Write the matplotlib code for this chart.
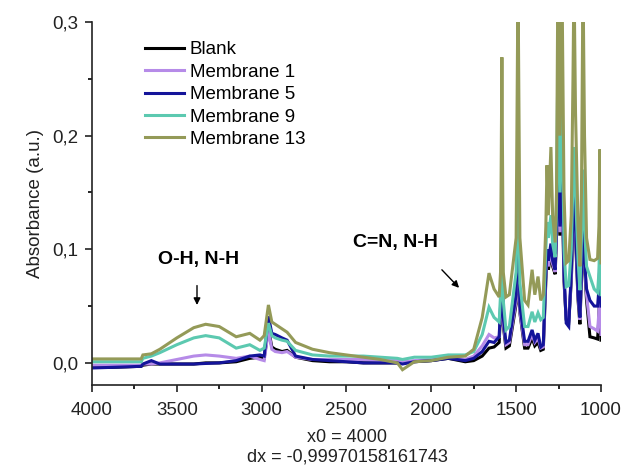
import matplotlib
matplotlib.use('Agg')
import matplotlib.pyplot as plt
from matplotlib.ticker import MultipleLocator, FuncFormatter

plt.rcParams['font.family'] = ['Liberation Sans', 'DejaVu Sans']

# wavenumber (cm-1) of the read-off points
wavenumber = [4000, 3900, 3800, 3710, 3700, 3650, 3600, 3500, 3400, 3330,
              3250, 3150, 3070, 3010, 2985, 2960, 2940, 2920, 2880, 2850,
              2800, 2700, 2600, 2500, 2400, 2300, 2200, 2170, 2100, 2000,
              1900, 1800, 1750, 1700, 1660, 1630, 1600, 1592, 1584, 1576,
              1560, 1540, 1500, 1489, 1478, 1450, 1430, 1406, 1390, 1371,
              1355, 1340, 1325, 1318, 1310, 1295, 1285, 1270, 1262, 1254,
              1242, 1230, 1218, 1205, 1190, 1175, 1165, 1159, 1150, 1135,
              1124, 1115, 1106, 1097, 1085, 1065, 1040, 1020, 1012, 1006,
              1000]

blank = [-0.004, -0.004, -0.0035, -0.003, -0.002, -0.001, -0.001, -0.001, -0.001, 0.000,
         0.000, 0.001, 0.004, 0.005, 0.004, 0.030, 0.014, 0.012, 0.010, 0.011,
         0.005, 0.002, 0.001, 0.001, 0.000, 0.000, 0.000, 0.000, 0.001, 0.002,
         0.004, 0.001, 0.002, 0.006, 0.013, 0.014, 0.018, 0.045, 0.090, 0.033,
         0.013, 0.015, 0.052, 0.138, 0.044, 0.013, 0.013, 0.022, 0.015, 0.018,
         0.011, 0.012, 0.072, 0.092, 0.082, 0.097, 0.085, 0.078, 0.112, 0.185,
         0.112, 0.165, 0.072, 0.038, 0.036, 0.072, 0.120, 0.140, 0.110, 0.055,
         0.034, 0.075, 0.130, 0.085, 0.055, 0.023, 0.022, 0.021, 0.040, 0.080,
         0.020]

membrane_1 = [-0.002, -0.002, -0.002, -0.002, -0.001, -0.001, 0.000, 0.003, 0.006, 0.007,
              0.006, 0.004, 0.006, 0.003, 0.002, 0.029, 0.012, 0.010, 0.009, 0.010,
              0.005, 0.003, 0.003, 0.003, 0.003, 0.002, 0.002, 0.001, 0.002, 0.003,
              0.005, 0.003, 0.006, 0.015, 0.025, 0.022, 0.023, 0.048, 0.092, 0.035,
              0.016, 0.018, 0.055, 0.140, 0.045, 0.016, 0.016, 0.025, 0.018, 0.022,
              0.013, 0.014, 0.075, 0.095, 0.085, 0.100, 0.087, 0.080, 0.115, 0.190,
              0.115, 0.170, 0.075, 0.040, 0.038, 0.075, 0.125, 0.145, 0.115, 0.058,
              0.038, 0.078, 0.135, 0.088, 0.060, 0.032, 0.030, 0.028, 0.045, 0.085,
              0.025]

membrane_5 = [-0.0045, -0.004, -0.0035, -0.003, -0.001, 0.002, -0.001, -0.001, -0.001, -0.0005,
              0.000, 0.002, 0.006, 0.007, 0.006, 0.041, 0.026, 0.025, 0.022, 0.020,
              0.006, 0.003, 0.002, 0.001, 0.000, 0.000, 0.000, -0.001, 0.001, 0.002,
              0.004, 0.002, 0.004, 0.010, 0.019, 0.018, 0.023, 0.050, 0.100, 0.040,
              0.018, 0.020, 0.060, 0.152, 0.050, 0.019, 0.019, 0.029, 0.020, 0.026,
              0.014, 0.016, 0.080, 0.100, 0.090, 0.105, 0.090, 0.082, 0.120, 0.200,
              0.120, 0.180, 0.080, 0.035, 0.032, 0.080, 0.130, 0.150, 0.120, 0.060,
              0.040, 0.080, 0.140, 0.090, 0.065, 0.055, 0.050, 0.050, 0.065, 0.100,
              0.050]

membrane_9 = [0.001, 0.001, 0.001, 0.001, 0.004, 0.006, 0.009, 0.016, 0.022, 0.024,
              0.022, 0.013, 0.016, 0.011, 0.013, 0.035, 0.024, 0.022, 0.020, 0.019,
              0.011, 0.007, 0.006, 0.006, 0.006, 0.005, 0.004, 0.003, 0.005, 0.005,
              0.007, 0.007, 0.010, 0.025, 0.049, 0.040, 0.036, 0.060, 0.130, 0.055,
              0.029, 0.032, 0.080, 0.188, 0.070, 0.032, 0.032, 0.045, 0.036, 0.044,
              0.038, 0.040, 0.100, 0.124, 0.110, 0.130, 0.105, 0.093, 0.140, 0.270,
              0.150, 0.250, 0.100, 0.067, 0.068, 0.100, 0.160, 0.190, 0.150, 0.090,
              0.064, 0.110, 0.170, 0.120, 0.085, 0.076, 0.065, 0.062, 0.080, 0.125,
              0.060]

membrane_13 = [0.0035, 0.0035, 0.0035, 0.0035, 0.007, 0.008, 0.012, 0.022, 0.031, 0.034,
               0.032, 0.023, 0.026, 0.020, 0.024, 0.051, 0.036, 0.034, 0.030, 0.027,
               0.018, 0.012, 0.009, 0.007, 0.005, 0.003, 0.000, -0.006, 0.001, 0.002,
               0.005, 0.006, 0.012, 0.040, 0.079, 0.065, 0.058, 0.080, 0.269, 0.080,
               0.058, 0.060, 0.110, 0.340, 0.110, 0.055, 0.051, 0.082, 0.060, 0.076,
               0.055, 0.060, 0.120, 0.174, 0.130, 0.190, 0.130, 0.106, 0.150, 0.340,
               0.200, 0.340, 0.150, 0.088, 0.090, 0.130, 0.250, 0.340, 0.220, 0.120,
               0.085, 0.150, 0.340, 0.200, 0.110, 0.091, 0.090, 0.092, 0.120, 0.188,
               0.088]

series = [('Blank', blank, '#000000'),
          ('Membrane 1', membrane_1, '#B68BE8'),
          ('Membrane 5', membrane_5, '#14149A'),
          ('Membrane 9', membrane_9, '#5CC9B0'),
          ('Membrane 13', membrane_13, '#949A58')]

fig = plt.figure(figsize=(6.24, 4.69), dpi=100)
ax = fig.add_axes([0.1474, 0.179, 0.8157, 0.774])

for name, values, color in series:
    assert len(values) == len(wavenumber)
    ax.plot(wavenumber, values, color=color, linewidth=2.2, label=name,
            solid_joinstyle='miter')

ax.set_xlim(4000, 1000)
ax.set_ylim(-0.0195, 0.3)

ax.xaxis.set_major_locator(MultipleLocator(500))
ax.xaxis.set_minor_locator(MultipleLocator(250))
ax.yaxis.set_major_locator(MultipleLocator(0.1))
ax.yaxis.set_minor_locator(MultipleLocator(0.05))
ax.yaxis.set_major_formatter(FuncFormatter(lambda v, p: f'{v:.1f}'.replace('.', ',')))
ax.tick_params(axis='both', which='major', direction='out', length=5, width=1.2,
               labelsize=13.5, colors='#222222', pad=5)
ax.tick_params(axis='x', which='major', pad=7)
ax.tick_params(axis='both', which='minor', direction='out', length=3, width=1.2)

for side in ['top', 'right']:
    ax.spines[side].set_visible(False)
for side in ['left', 'bottom']:
    ax.spines[side].set_linewidth(1.2)
    ax.spines[side].set_color('#222222')

ax.set_ylabel('Absorbance (a.u.)', fontsize=13.5, color='#222222', labelpad=6)

ax.legend(loc='upper left', bbox_to_anchor=(0.104, 0.947), frameon=False,
          fontsize=13.5, handlelength=2.1, handletextpad=0.3, labelspacing=0.28,
          borderpad=0, borderaxespad=0)

ax.text(3369, 0.0907, 'O-H, N-H', fontsize=14, fontweight='bold',
        ha='center', va='center')
ax.annotate('', xy=(3381, 0.0485), xytext=(3381, 0.0705),
            arrowprops=dict(arrowstyle='-|>', color='black', lw=1.0,
                            mutation_scale=10))
ax.text(2214, 0.1057, 'C=N, N-H', fontsize=14, fontweight='bold',
        ha='center', va='center')
ax.annotate('', xy=(1825, 0.0643), xytext=(1949, 0.0837),
            arrowprops=dict(arrowstyle='-|>', color='black', lw=1.0,
                            mutation_scale=10))

fig.text(347 / 624, 1 - 437 / 469, 'x0 = 4000', fontsize=13, ha='center',
         va='center', color='#222222')
fig.text(347 / 624, 1 - 457 / 469, 'dx = -0,99970158161743', fontsize=13,
         ha='center', va='center', color='#222222')

fig.savefig('out.png', dpi=100)
